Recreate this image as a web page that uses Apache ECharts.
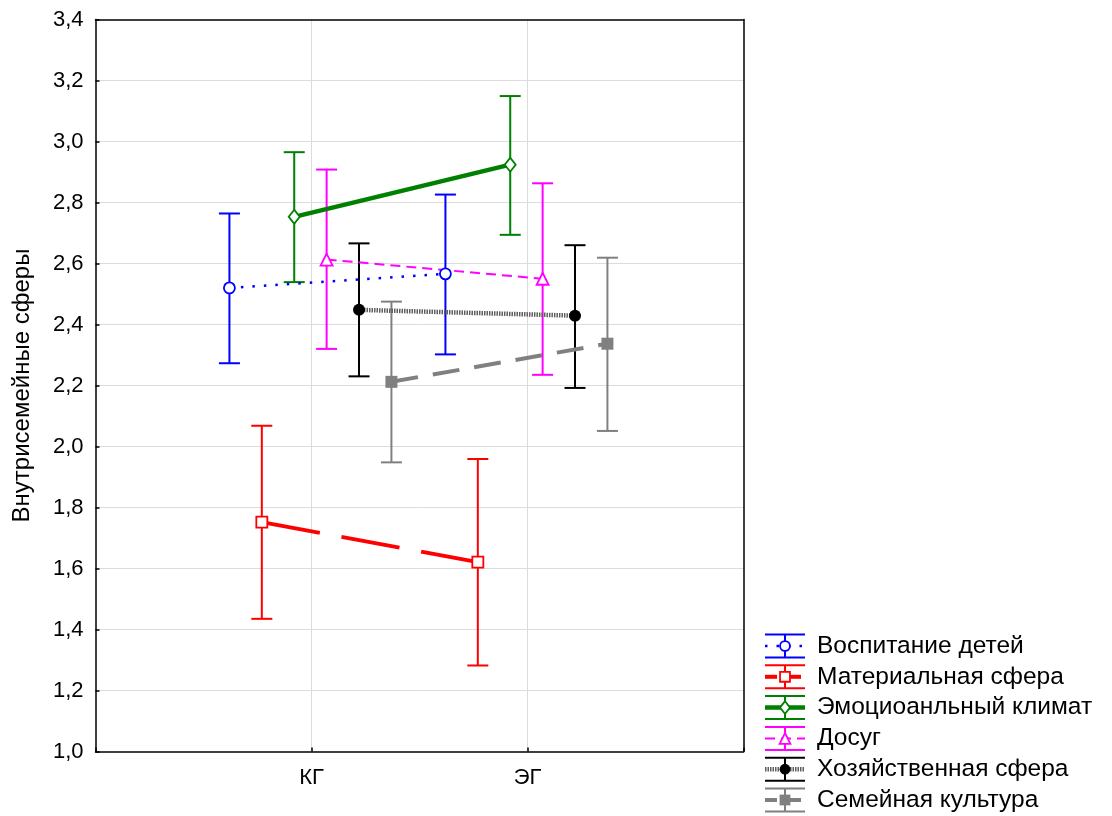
<!DOCTYPE html>
<html><head><meta charset="utf-8">
<script src="https://cdn.jsdelivr.net/npm/echarts@6/dist/echarts.min.js"></script>
<style>html,body{margin:0;padding:0;background:#fff}#c{width:1112px;height:816px}</style>
</head><body><div id="c"></div>
<script>
// ---- data ----
var categories = ['КГ', 'ЭГ'];
var seriesNames = ['Воспитание детей', 'Материальная сфера', 'Эмоциоанльный климат', 'Досуг', 'Хозяйственная сфера', 'Семейная культура'];
var meanVospitanie = [2.520, 2.566];
var lowVospitanie  = [2.273, 2.302];
var highVospitanie = [2.764, 2.826];
var meanMaterial = [1.752, 1.621];
var lowMaterial  = [1.435, 1.282];
var highMaterial = [2.068, 1.959];
var meanEmotion = [2.753, 2.924];
var lowEmotion  = [2.539, 2.694];
var highEmotion = [2.965, 3.149];
var meanDosug = [2.613, 2.550];
var lowDosug  = [2.320, 2.235];
var highDosug = [2.908, 2.863];
var meanHoz = [2.448, 2.429];
var lowHoz  = [2.230, 2.192];
var highHoz = [2.666, 2.660];
var meanSem = [2.212, 2.337];
var lowSem  = [1.948, 2.051];
var highSem = [2.475, 2.619];
var yTicks = ['1,0','1,2','1,4','1,6','1,8','2,0','2,2','2,4','2,6','2,8','3,0','3,2','3,4'];

var means = [meanVospitanie, meanMaterial, meanEmotion, meanDosug, meanHoz, meanSem];
var lows = [lowVospitanie, lowMaterial, lowEmotion, lowDosug, lowHoz, lowSem];
var highs = [highVospitanie, highMaterial, highEmotion, highDosug, highHoz, highSem];

// ---- styles ----
var FONT = 'Liberation Sans, Arial, sans-serif';
var offsets = [-0.38, -0.23, -0.08, 0.07, 0.22, 0.37];
var styles = [
  {bar:'#0000ff', line:{color:'#0000ff', width:2.5, type:[2.5, 9]}, base:'circle', size:11, fill:'#fff'},
  {bar:'#ff0000', line:{color:'#ff0000', width:4, type:[59, 22]}, base:'rect', size:11, fill:'#fff'},
  {bar:'#008000', line:{color:'#008000', width:4.5, type:'solid'}, base:'diamond', size:14, fill:'#fff'},
  {bar:'#ff00ff', line:{color:'#ff00ff', width:2, type:[10, 6]}, base:'triangle', size:12, fill:'#fff'},
  {bar:'#000000', line:{color:'#5e5e5e', width:4.5, type:[1.5, 1]}, base:'circle', size:12, fill:'#000'},
  {bar:'#808080', line:{color:'#808080', width:4, type:[27, 15]}, base:'rect', size:12, fill:'#808080'}
];

var series = [];
seriesNames.forEach(function (name, s) {
  var st = styles[s];
  var ebData = categories.map(function (c, i) { return [i + 1 + offsets[s], lows[s][i], highs[s][i]]; });
  series.push({
    type: 'custom', name: name + ' eb', z: 2, silent: true,
    data: ebData,
    encode: {x: 0, y: [1, 2]},
    renderItem: function (params, api) {
      var x = api.value(0);
      var lo = api.coord([x, api.value(1)]);
      var hi = api.coord([x, api.value(2)]);
      var hw = 10.5;
      var ls = {stroke: st.bar, lineWidth: 2};
      return {type: 'group', children: [
        {type: 'line', shape: {x1: lo[0], y1: lo[1], x2: hi[0], y2: hi[1]}, style: ls},
        {type: 'line', shape: {x1: lo[0] - hw, y1: lo[1], x2: lo[0] + hw, y2: lo[1]}, style: ls},
        {type: 'line', shape: {x1: hi[0] - hw, y1: hi[1], x2: hi[0] + hw, y2: hi[1]}, style: ls}
      ]};
    }
  });
  series.push({
    type: 'line', name: name, z: 3,
    data: categories.map(function (c, i) { return [i + 1 + offsets[s], means[s][i]]; }),
    symbol: st.base,
    symbolSize: st.base === 'diamond' ? [11, 14] : st.size,
    showAllSymbol: true,
    lineStyle: st.line,
    itemStyle: {color: st.fill, borderColor: st.bar, borderWidth: st.fill === '#fff' ? 1.8 : 0},
    emphasis: {disabled: true},
    animation: false
  });
});

// ---- legend as graphics ----
var legendChildren = [];
seriesNames.forEach(function (name, s) {
  var st = styles[s];
  var cy = 646 + s * 30.8, x0 = 765, x1 = 805, xc = 785, h = 11.5;
  var bl = {stroke: st.bar, lineWidth: 2};
  legendChildren.push({type: 'line', shape: {x1: x0, y1: cy - h, x2: x1, y2: cy - h}, style: bl});
  legendChildren.push({type: 'line', shape: {x1: x0, y1: cy + h, x2: x1, y2: cy + h}, style: bl});
  legendChildren.push({type: 'line', shape: {x1: xc, y1: cy - h, x2: xc, y2: cy + h}, style: bl});
  var dash = Array.isArray(st.line.type) ? st.line.type.map(function(v){return Math.min(v, 12);}) : null;
  legendChildren.push({type: 'line', shape: {x1: x0, y1: cy, x2: x1, y2: cy},
    style: {stroke: st.line.color, lineWidth: st.line.width, lineDash: dash}});
  var sz = st.size * 0.9, r = sz / 2;
  var mstyle = {fill: st.fill, stroke: st.bar, lineWidth: st.fill === '#fff' ? 1.8 : 0};
  if (st.base === 'circle') legendChildren.push({type: 'circle', shape: {cx: xc, cy: cy, r: r}, style: mstyle});
  else if (st.base === 'rect') legendChildren.push({type: 'rect', shape: {x: xc - r, y: cy - r, width: sz, height: sz}, style: mstyle});
  else if (st.base === 'diamond') legendChildren.push({type: 'polygon', shape: {points: [[xc, cy - r], [xc + r * 0.8, cy], [xc, cy + r], [xc - r * 0.8, cy]]}, style: mstyle});
  else if (st.base === 'triangle') legendChildren.push({type: 'polygon', shape: {points: [[xc, cy - r], [xc + r, cy + r], [xc - r, cy + r]]}, style: mstyle});
  legendChildren.push({type: 'text', x: 817, y: cy, style: {text: name, fill: '#000', font: '24.5px ' + FONT, verticalAlign: 'middle', align: 'left'}});
});

var frameAxis = {
  axisLine: {show: true, onZero: false, lineStyle: {color: '#000', width: 1.5}},
  axisTick: {show: false}, axisLabel: {show: false}, splitLine: {show: false}, z: 10
};

var chart = echarts.init(document.getElementById('c'), null, {renderer: 'canvas'});
chart.setOption({
  backgroundColor: '#fff',
  animation: false,
  grid: {left: 95.5, right: 368.5, top: 19.5, bottom: 64.5, containLabel: false, outerBoundsMode: 'none'},
  xAxis: [{
    type: 'value', min: 0, max: 3, interval: 1,
    axisLine: {show: true, onZero: false, lineStyle: {color: '#000', width: 1.5}},
    axisTick: {show: true, inside: true, length: 4, lineStyle: {color: '#000', width: 1.5}},
    splitLine: {show: true, showMinLine: false, showMaxLine: false, lineStyle: {color: '#dcdcdc', width: 1}},
    axisLabel: {margin: 15, color: '#000', fontSize: 22, fontFamily: FONT, showMinLabel: true, showMaxLabel: true,
      formatter: function (v) { return (v >= 1 && v <= categories.length && v % 1 === 0) ? categories[v - 1] : ''; }}
  }, Object.assign({type: 'value', min: 0, max: 3, position: 'top'}, frameAxis)],
  yAxis: [{
    type: 'value', min: 1.0, max: 3.4, interval: 0.2,
    name: 'Внутрисемейные сферы', nameLocation: 'middle', nameGap: 61, nameRotate: 90,
    nameTextStyle: {color: '#000', fontSize: 24, fontFamily: FONT},
    axisLine: {show: true, onZero: false, lineStyle: {color: '#000', width: 1.5}},
    axisTick: {show: true, inside: true, length: 4, lineStyle: {color: '#000', width: 1.5}},
    splitLine: {show: true, showMinLine: false, showMaxLine: false, lineStyle: {color: '#dcdcdc', width: 1}},
    axisLabel: {margin: 12, color: '#000', fontSize: 22, fontFamily: FONT,
      formatter: function (v) { return yTicks[Math.round((v - 1.0) / 0.2)]; }}
  }, Object.assign({type: 'value', min: 1.0, max: 3.4, position: 'right'}, frameAxis)],
  graphic: [{type: 'group', children: legendChildren}],
  series: series
});
</script></body></html>
